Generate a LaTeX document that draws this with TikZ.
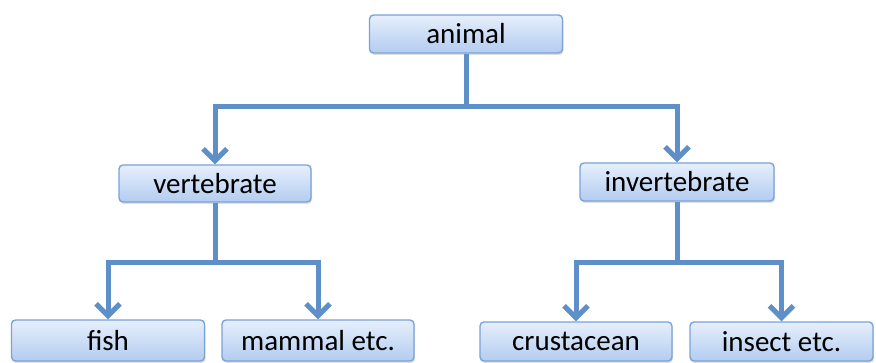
\documentclass[tikz,border=0pt]{standalone}
\usepackage{fontspec}
\setmainfont{Carlito}
\usetikzlibrary{arrows.meta,shadows}
\definecolor{boxtop}{HTML}{E6EFFC}
\definecolor{boxbot}{HTML}{B3CCF0}
\definecolor{boxline}{HTML}{7AA3D8}
\definecolor{conncol}{HTML}{5E8FC9}
\tikzset{
  catbox/.style={draw=boxline, line width=1.4pt, rounded corners=4pt,
    top color=boxtop, bottom color=boxbot, inner sep=0pt,
    font=\fontsize{29}{32}\selectfont, text=black,
    drop shadow={opacity=0.25, shadow xshift=1pt, shadow yshift=-2pt}},
  conn/.style={draw=conncol, line width=5pt},
  arr/.style={conn, -{Straight Barb[length=12pt, width=24pt]}}
}
\begin{document}
\begin{tikzpicture}[x=1pt,y=1pt]
\useasboundingbox (0,0) rectangle (876,363);
\node[catbox, minimum width=193pt, minimum height=38pt] (animal) at (466,329) {animal};
\node[catbox, minimum width=192pt, minimum height=37pt] (vert) at (215,179.5) {vertebrate};
\node[catbox, minimum width=194pt, minimum height=38pt] (invert) at (677,181) {invertebrate};
\node[catbox, minimum width=193pt, minimum height=41pt] (fish) at (108,22.5) {fish};
\node[catbox, minimum width=192pt, minimum height=41pt] (mammal) at (318,22.5) {mammal etc.};
\node[catbox, minimum width=192pt, minimum height=39pt] (crust) at (576,21.5) {crustacean};
\node[catbox, minimum width=183pt, minimum height=39pt] (insect) at (781.5,21.5) {insect etc.};
\coordinate (j1) at (466,256);
\coordinate (j2) at (215,100);
\coordinate (j3) at (677,100);
\draw[conn] (animal.south) -- (j1);
\draw[arr] (j1) -| (vert.north);
\draw[arr] (j1) -| (invert.north);
\draw[conn] (vert.south) -- (j2);
\draw[arr] (j2) -| (fish.north);
\draw[arr] (j2) -| (mammal.north);
\draw[conn] (invert.south) -- (j3);
\draw[arr] (j3) -| (crust.north);
\draw[arr] (j3) -| (insect.north);
\end{tikzpicture}
\end{document}
